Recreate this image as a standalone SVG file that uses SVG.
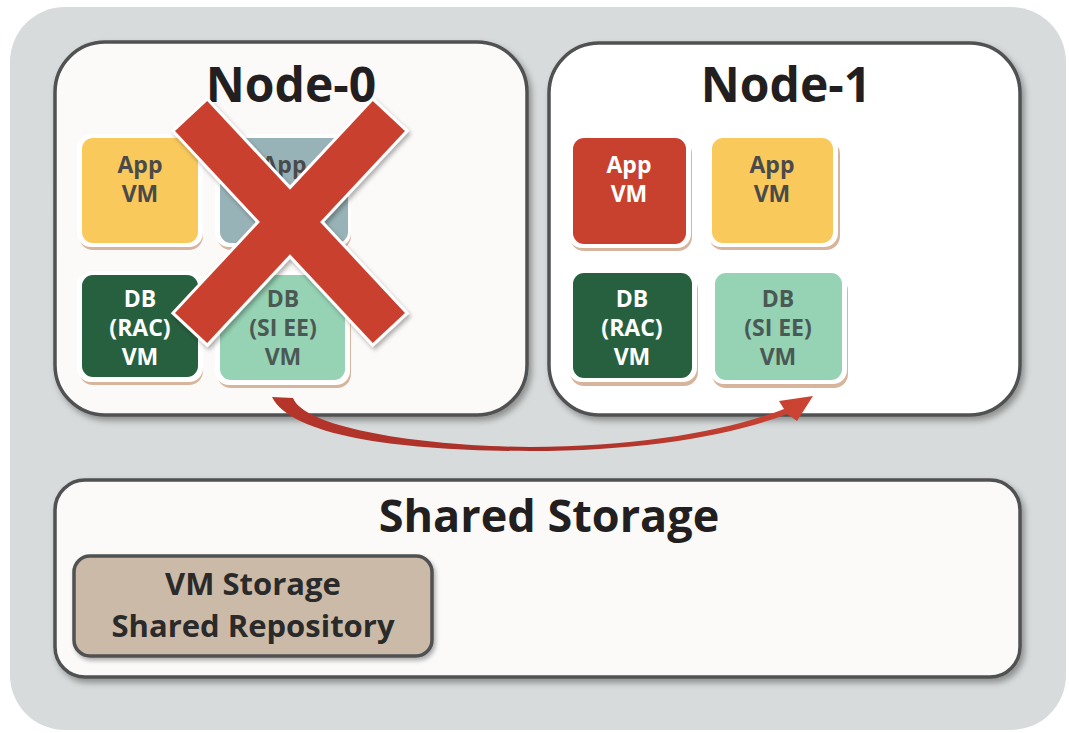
<svg xmlns="http://www.w3.org/2000/svg" width="1069" height="733" viewBox="0 0 1069 733">
<defs>
<filter id="sh" x="-10%" y="-10%" width="130%" height="130%">
<feDropShadow dx="3" dy="4" stdDeviation="3" flood-color="#000" flood-opacity="0.35"/>
</filter>
<filter id="sh2" x="-20%" y="-20%" width="140%" height="140%">
<feDropShadow dx="2" dy="3" stdDeviation="2" flood-color="#000" flood-opacity="0.3"/>
</filter>
<linearGradient id="arr" x1="0" y1="0" x2="1" y2="0">
<stop offset="0" stop-color="#b5352a"/>
<stop offset="0.5" stop-color="#a8302a"/>
<stop offset="1" stop-color="#cc4433"/>
</linearGradient>
<style>
.box{stroke:#505152;stroke-width:3.5;}
.title{font-family:"Open Sans","Liberation Sans",sans-serif;font-weight:bold;font-size:45px;fill:#231f20;text-anchor:middle;}
.ntitle{font-size:48px;}
.vt{font-family:"Open Sans","Liberation Sans",sans-serif;font-weight:bold;font-size:23px;text-anchor:middle;}
.st{font-size:31px;fill:#2b2a2a;}
.dk{fill:#4a4a4a;}
.wt{fill:#ffffff;}
.gt{fill:#4b5954;}
.tan{fill:#d7b59c;}
.frame{fill:#ffffff;}
</style>
</defs>
<rect x="10" y="7" width="1056" height="723" rx="55" fill="#d8dbdb"/>

<g id="node0">
<rect class="box" x="55" y="42" width="472" height="373" rx="50" fill="#fbfaf9" filter="url(#sh)"/>
<text class="title ntitle" x="291" y="102">Node-0</text>
</g>
<g id="node1">
<rect class="box" x="549" y="43" width="471" height="372" rx="50" fill="#ffffff" filter="url(#sh)"/>
<text class="title ntitle" x="786" y="102">Node-1</text>
</g>

<g id="n0-app1">
<rect class="tan" x="79" y="140" width="124" height="110" rx="14"/>
<rect class="frame" x="77" y="134" width="126" height="113" rx="14"/>
<rect x="82" y="138" width="116" height="105" rx="11" fill="#f9c95c"/>
<text class="vt dk" x="140" y="173">App</text>
<text class="vt dk" x="140" y="202">VM</text>
</g>
<g id="n0-app2">
<rect class="tan" x="217" y="140" width="134" height="110" rx="14"/>
<rect class="frame" x="215" y="134" width="136" height="113" rx="14"/>
<rect x="220" y="138" width="128" height="105" rx="11" fill="#98b3b7"/>
<text class="vt dk" x="284" y="173">App</text>
<text class="vt dk" x="284" y="202">VM</text>
</g>
<g id="n0-dbrac">
<rect class="tan" x="79" y="277" width="124" height="108" rx="14"/>
<rect class="frame" x="77" y="271" width="126" height="111" rx="14"/>
<rect x="82" y="275" width="116" height="102" rx="11" fill="#27603f"/>
<text class="vt wt" x="140" y="307">DB</text>
<text class="vt wt" x="140" y="336">(RAC)</text>
<text class="vt wt" x="140" y="365">VM</text>
</g>
<g id="n0-dbsi">
<rect class="tan" x="217" y="278" width="134" height="110" rx="14"/>
<rect class="frame" x="215" y="271" width="135" height="114" rx="14"/>
<rect x="220" y="275" width="125" height="105" rx="11" fill="#96d2b4"/>
<text class="vt gt" x="283" y="307">DB</text>
<text class="vt gt" x="283" y="336">(SI EE)</text>
<text class="vt gt" x="283" y="365">VM</text>
</g>

<g id="n1-app1">
<rect class="tan" x="570" y="140" width="122" height="111" rx="14"/>
<rect class="frame" x="568" y="134" width="123" height="114" rx="14"/>
<rect x="573" y="138" width="113" height="106" rx="11" fill="#c8412f"/>
<text class="vt wt" x="629" y="173">App</text>
<text class="vt wt" x="629" y="202">VM</text>
</g>
<g id="n1-app2">
<rect class="tan" x="709" y="140" width="131" height="110" rx="14"/>
<rect class="frame" x="707" y="134" width="131" height="113" rx="14"/>
<rect x="712" y="138" width="121" height="105" rx="11" fill="#f9c95c"/>
<text class="vt dk" x="772" y="173">App</text>
<text class="vt dk" x="772" y="202">VM</text>
</g>
<g id="n1-dbrac">
<rect class="tan" x="570" y="276" width="128" height="110" rx="14"/>
<rect class="frame" x="568" y="269" width="129" height="113" rx="14"/>
<rect x="573" y="273" width="119" height="105" rx="11" fill="#27603f"/>
<text class="vt wt" x="632" y="307">DB</text>
<text class="vt wt" x="632" y="336">(RAC)</text>
<text class="vt wt" x="632" y="365">VM</text>
</g>
<g id="n1-dbsi">
<rect class="tan" x="712" y="277" width="136" height="111" rx="14"/>
<rect class="frame" x="710" y="269" width="137" height="115" rx="14"/>
<rect x="715" y="273" width="127" height="107" rx="11" fill="#96d2b4"/>
<text class="vt gt" x="778" y="307">DB</text>
<text class="vt gt" x="778" y="336">(SI EE)</text>
<text class="vt gt" x="778" y="365">VM</text>
</g>

<g id="failure-x" filter="url(#sh2)">
<rect x="145" y="200" width="290" height="44" fill="#ffffff" stroke="#ffffff" stroke-width="6" transform="rotate(47 290 222)"/>
<rect x="145" y="200" width="290" height="44" fill="#ffffff" stroke="#ffffff" stroke-width="6" transform="rotate(-47 290 222)"/>
<rect x="145" y="200" width="290" height="44" fill="#c9412f" transform="rotate(47 290 222)"/>
<rect x="145" y="200" width="290" height="44" fill="#c9412f" transform="rotate(-47 290 222)"/>
</g>

<g id="shared-storage">
<rect class="box" x="55" y="480" width="965" height="197" rx="30" fill="#fbfaf9" filter="url(#sh)"/>
<text class="title" x="549" y="532">Shared Storage</text>
</g>
<g id="vm-storage">
<rect class="box" x="74" y="556" width="358" height="100" rx="16" fill="#cbbaa8" filter="url(#sh2)"/>
<text class="title st" x="253" y="595">VM Storage</text>
<text class="title st" x="253" y="637">Shared Repository</text>
</g>

<g id="connectors">
<path d="M 272 397 L 293 398 C 305 428, 420 446, 530 447 C 640 447, 730 430, 784 409 L 779 401 L 813 396 L 797 421 L 787 414 C 730 436, 640 451, 530 451 C 410 451, 292 438, 272 397 Z" fill="url(#arr)"/>
</g>
</svg>
